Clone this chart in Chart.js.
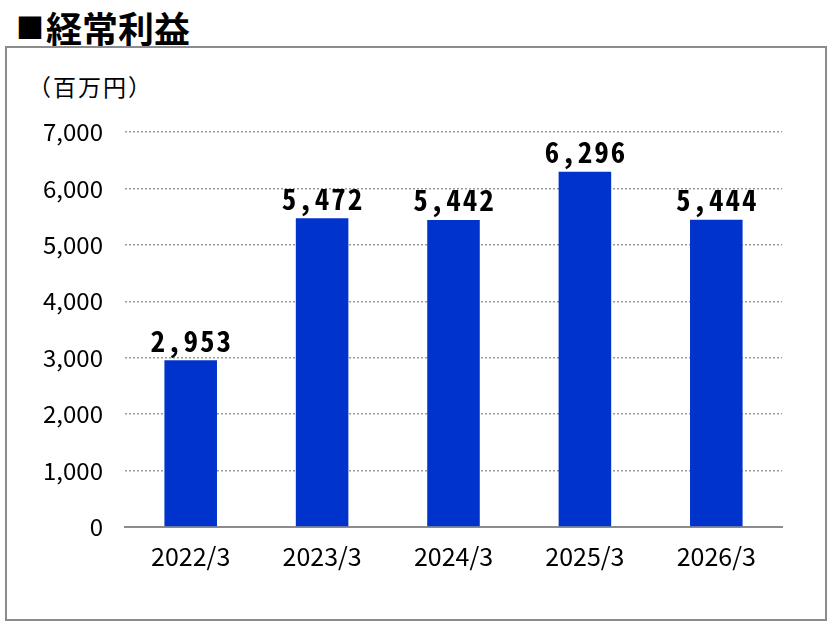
<!DOCTYPE html>
<html>
<head>
<meta charset="utf-8">
<script src="https://cdn.jsdelivr.net/npm/chart.js"></script>
<style>
  body { margin: 0; background: #fff; width: 836px; height: 633px; position: relative; overflow: hidden; }
  #title { position: absolute; left: 16px; top: 1px; font: bold 36px "Noto Sans CJK JP", sans-serif; color: #000; }
  #title .sq { font-size: 28px; vertical-align: 4px; margin-right: 2px; }
  #frame { position: absolute; left: 5px; top: 46px; width: 818px; height: 571px; border: 2px solid #8c8c8c; }
  #unit { position: absolute; left: 28px; top: 69px; font: 23px "Noto Sans CJK JP", sans-serif; color: #000; letter-spacing: 2px; }
  #wrap { position: absolute; left: 7px; top: 48px; width: 818px; height: 571px; }
</style>
</head>
<body>
<div id="title"><span class="sq">■</span>経常利益</div>
<div id="frame"></div>
<div id="unit">（百万円）</div>
<div id="wrap"><canvas id="profitChart"></canvas></div>
<script>
// 経常利益 (百万円)
const years = ['2022/3', '2023/3', '2024/3', '2025/3', '2026/3'];
const profit = [2953, 5472, 5442, 6296, 5444];
const yTicks = [0, 1000, 2000, 3000, 4000, 5000, 6000, 7000];

// value labels above each bar
const barLabels = {
  id: 'barLabels',
  afterDatasetsDraw(chart) {
    const ctx = chart.ctx;
    const meta = chart.getDatasetMeta(0);
    ctx.save();
    ctx.font = 'bold 29px "Noto Sans Mono CJK JP", "DejaVu Sans Mono", monospace';
    ctx.letterSpacing = '2px';
    ctx.fillStyle = '#000';
    ctx.textAlign = 'center';
    ctx.textBaseline = 'bottom';
    meta.data.forEach((bar, i) => {
      ctx.fillText(profit[i].toLocaleString('en-US'), bar.x + 1, bar.y - 5);
    });
    ctx.restore();
  }
};

new Chart(document.getElementById('profitChart'), {
  type: 'bar',
  data: {
    labels: years,
    datasets: [{
      data: profit,
      backgroundColor: '#0033cc',
      barPercentage: 0.8,
      categoryPercentage: 0.5
    }]
  },
  options: {
    responsive: true,
    maintainAspectRatio: false,
    animation: false,
    layout: { padding: { top: 84, right: 43, left: 0, bottom: 0 } },
    plugins: { legend: { display: false }, tooltip: { enabled: false } },
    scales: {
      x: {
        grid: { display: false, drawTicks: false },
        border: { color: '#8c8c8c', width: 2 },
        ticks: { color: '#000', padding: 14, font: { family: '"Noto Sans CJK JP", sans-serif', size: 25 } },
        afterFit: s => { s.height = 92; }
      },
      y: {
        min: 0,
        max: 7000,
        afterBuildTicks: s => { s.ticks = yTicks.map(v => ({ value: v })); },
        grid: {
          drawTicks: false,
          color: c => c.tick.value === 0 ? 'rgba(0,0,0,0)' : '#9a9a9a',
          lineWidth: 1.5
        },
        border: { display: false, dash: [2, 2] },
        ticks: {
          color: '#000',
          padding: 22,
          font: { family: '"Noto Sans CJK JP", sans-serif', size: 24 },
          callback: v => v.toLocaleString('en-US')
        },
        afterFit: s => { s.width = 118; }
      }
    }
  },
  plugins: [barLabels]
});
</script>
</body>
</html>
